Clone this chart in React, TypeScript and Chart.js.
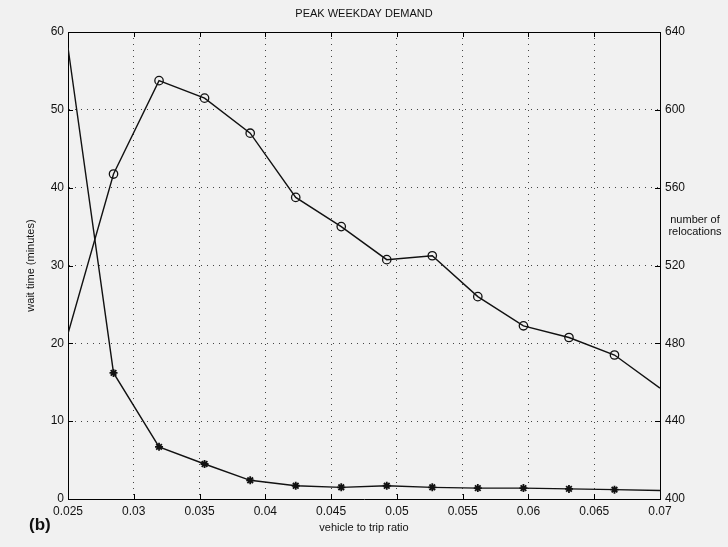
import React, { useEffect, useRef } from 'react';
import { Chart, registerables } from 'chart.js';

Chart.register(...registerables);

const ratios = [0.025, 0.02846, 0.03192, 0.03538, 0.03885, 0.04231, 0.04577, 0.04923, 0.05269, 0.05615, 0.05962, 0.06308, 0.06654, 0.07];
const waitTime = [58, 16.2, 6.7, 4.5, 2.4, 1.7, 1.5, 1.7, 1.5, 1.4, 1.4, 1.3, 1.2, 1.1];
const relocations = [485, 567, 615, 606, 588, 555, 540, 523, 525, 504, 489, 483, 474, 457];

const xTicks = [0.025, 0.03, 0.035, 0.04, 0.045, 0.05, 0.055, 0.06, 0.065, 0.07];
const xTickLabels = ['0.025', '0.03', '0.035', '0.04', '0.045', '0.05', '0.055', '0.06', '0.065', '0.07'];
const waitTicks = [0, 10, 20, 30, 40, 50, 60];
const relocTicks = [400, 440, 480, 520, 560, 600, 640];

const chartTitle = 'PEAK WEEKDAY DEMAND';
const xTitle = 'vehicle to trip ratio';
const yTitle = 'wait time (minutes)';
const y1Title = ['number of', 'relocations'];
const panelLabel = '(b)';

const FONT = '"Liberation Sans", Arial, Helvetica, sans-serif';
const INK = '#111';

const decorPlugin = {
  id: 'decor',
  afterDraw(chart: any) {
    const { ctx, chartArea } = chart;
    const { left, right, top, bottom } = chartArea;
    const xs = chart.scales.x;
    const ys = chart.scales.y;
    ctx.save();
    ctx.strokeStyle = '#000';
    ctx.lineWidth = 1;
    ctx.setLineDash([]);
    // top border
    ctx.beginPath();
    ctx.moveTo(left, Math.round(top) + 0.5);
    ctx.lineTo(right, Math.round(top) + 0.5);
    ctx.stroke();
    // inward ticks
    const tl = 5;
    ctx.beginPath();
    xTicks.forEach((v) => {
      const px = Math.round(xs.getPixelForValue(v)) + 0.5;
      ctx.moveTo(px, bottom);
      ctx.lineTo(px, bottom - tl);
      ctx.moveTo(px, top);
      ctx.lineTo(px, top + tl);
    });
    waitTicks.forEach((v) => {
      const py = Math.round(ys.getPixelForValue(v)) + 0.5;
      ctx.moveTo(left, py);
      ctx.lineTo(left + tl, py);
      ctx.moveTo(right, py);
      ctx.lineTo(right - tl, py);
    });
    ctx.stroke();
    // title
    ctx.fillStyle = INK;
    ctx.textAlign = 'center';
    ctx.textBaseline = 'middle';
    ctx.font = `11px ${FONT}`;
    ctx.fillText(chartTitle, (left + right) / 2, 14);
    // right axis label
    ctx.fillText(y1Title[0], 695, 220);
    ctx.fillText(y1Title[1], 695, 232);
    // panel label
    ctx.font = `bold 17px ${FONT}`;
    ctx.textAlign = 'left';
    ctx.fillText(panelLabel, 29, 525);
    ctx.restore();
  },
};

export default function App() {
  const ref = useRef<HTMLCanvasElement | null>(null);

  useEffect(() => {
    if (!ref.current) return;
    Chart.defaults.font.family = FONT;
    const last = ratios.length - 1;
    const radiusFn = (r: number) => (c: any) => (c.dataIndex === 0 || c.dataIndex === last ? 0 : r);
    const chart = new Chart(ref.current, {
      type: 'line',
      data: {
        datasets: [
          {
            label: 'wait time',
            data: ratios.map((x, i) => ({ x, y: waitTime[i] })),
            yAxisID: 'y',
            borderColor: INK,
            borderWidth: 1.4,
            pointStyle: 'star',
            pointRadius: radiusFn(4),
            pointBorderWidth: 1.8,
            pointBorderColor: INK,
            pointBackgroundColor: INK,
            tension: 0,
            fill: false,
          },
          {
            label: 'relocations',
            data: ratios.map((x, i) => ({ x, y: relocations[i] })),
            yAxisID: 'y1',
            borderColor: INK,
            borderWidth: 1.4,
            pointStyle: 'circle',
            pointRadius: radiusFn(4.2),
            pointBorderWidth: 1.3,
            pointBorderColor: INK,
            pointBackgroundColor: 'rgba(0,0,0,0)',
            tension: 0,
            fill: false,
          },
        ],
      },
      options: {
        responsive: false,
        animation: false,
        events: [],
        layout: { padding: { top: 32, left: 0, right: 0, bottom: 0 } },
        plugins: { legend: { display: false }, tooltip: { enabled: false }, title: { display: false } },
        scales: {
          x: {
            type: 'linear',
            position: 'bottom',
            min: 0.025,
            max: 0.07,
            afterBuildTicks: (s: any) => {
              s.ticks = xTicks.map((v) => ({ value: v }));
            },
            afterFit: (s: any) => {
              s.height = 48;
            },
            ticks: {
              callback: (_v: any, i: number) => xTickLabels[i],
              padding: 5,
              maxRotation: 0,
              autoSkip: false,
              color: INK,
              font: { size: 12 },
            },
            grid: { drawTicks: false, color: '#444', lineWidth: 1 },
            border: { display: true, color: '#000', width: 1, dash: [1, 5] },
            title: { display: true, text: xTitle, color: INK, font: { size: 11 }, padding: { top: 0, bottom: 12 } },
          },
          y: {
            type: 'linear',
            position: 'left',
            min: 0,
            max: 60,
            afterBuildTicks: (s: any) => {
              s.ticks = waitTicks.map((v) => ({ value: v }));
            },
            afterFit: (s: any) => {
              s.width = 68;
            },
            ticks: { padding: 4, color: INK, font: { size: 12 } },
            grid: { drawTicks: false, color: '#444', lineWidth: 1 },
            border: { display: true, color: '#000', width: 1, dash: [1, 5] },
            title: { display: true, text: yTitle, color: INK, font: { size: 11 }, padding: { top: 24, bottom: 0 } },
          },
          y1: {
            type: 'linear',
            position: 'right',
            min: 400,
            max: 640,
            afterBuildTicks: (s: any) => {
              s.ticks = relocTicks.map((v) => ({ value: v }));
            },
            afterFit: (s: any) => {
              s.width = 68;
            },
            ticks: { padding: 5, color: INK, font: { size: 12 } },
            grid: { display: false, drawTicks: false },
            border: { display: true, color: '#000', width: 1 },
          },
        },
      },
      plugins: [decorPlugin],
    } as any);
    return () => chart.destroy();
  }, []);

  return (
    <div style={{ position: 'absolute', left: 0, top: 0, width: 728, height: 547, background: '#f1f1f1' }}>
      <canvas ref={ref} width={728} height={547} style={{ display: 'block', width: 728, height: 547 }} />
    </div>
  );
}
